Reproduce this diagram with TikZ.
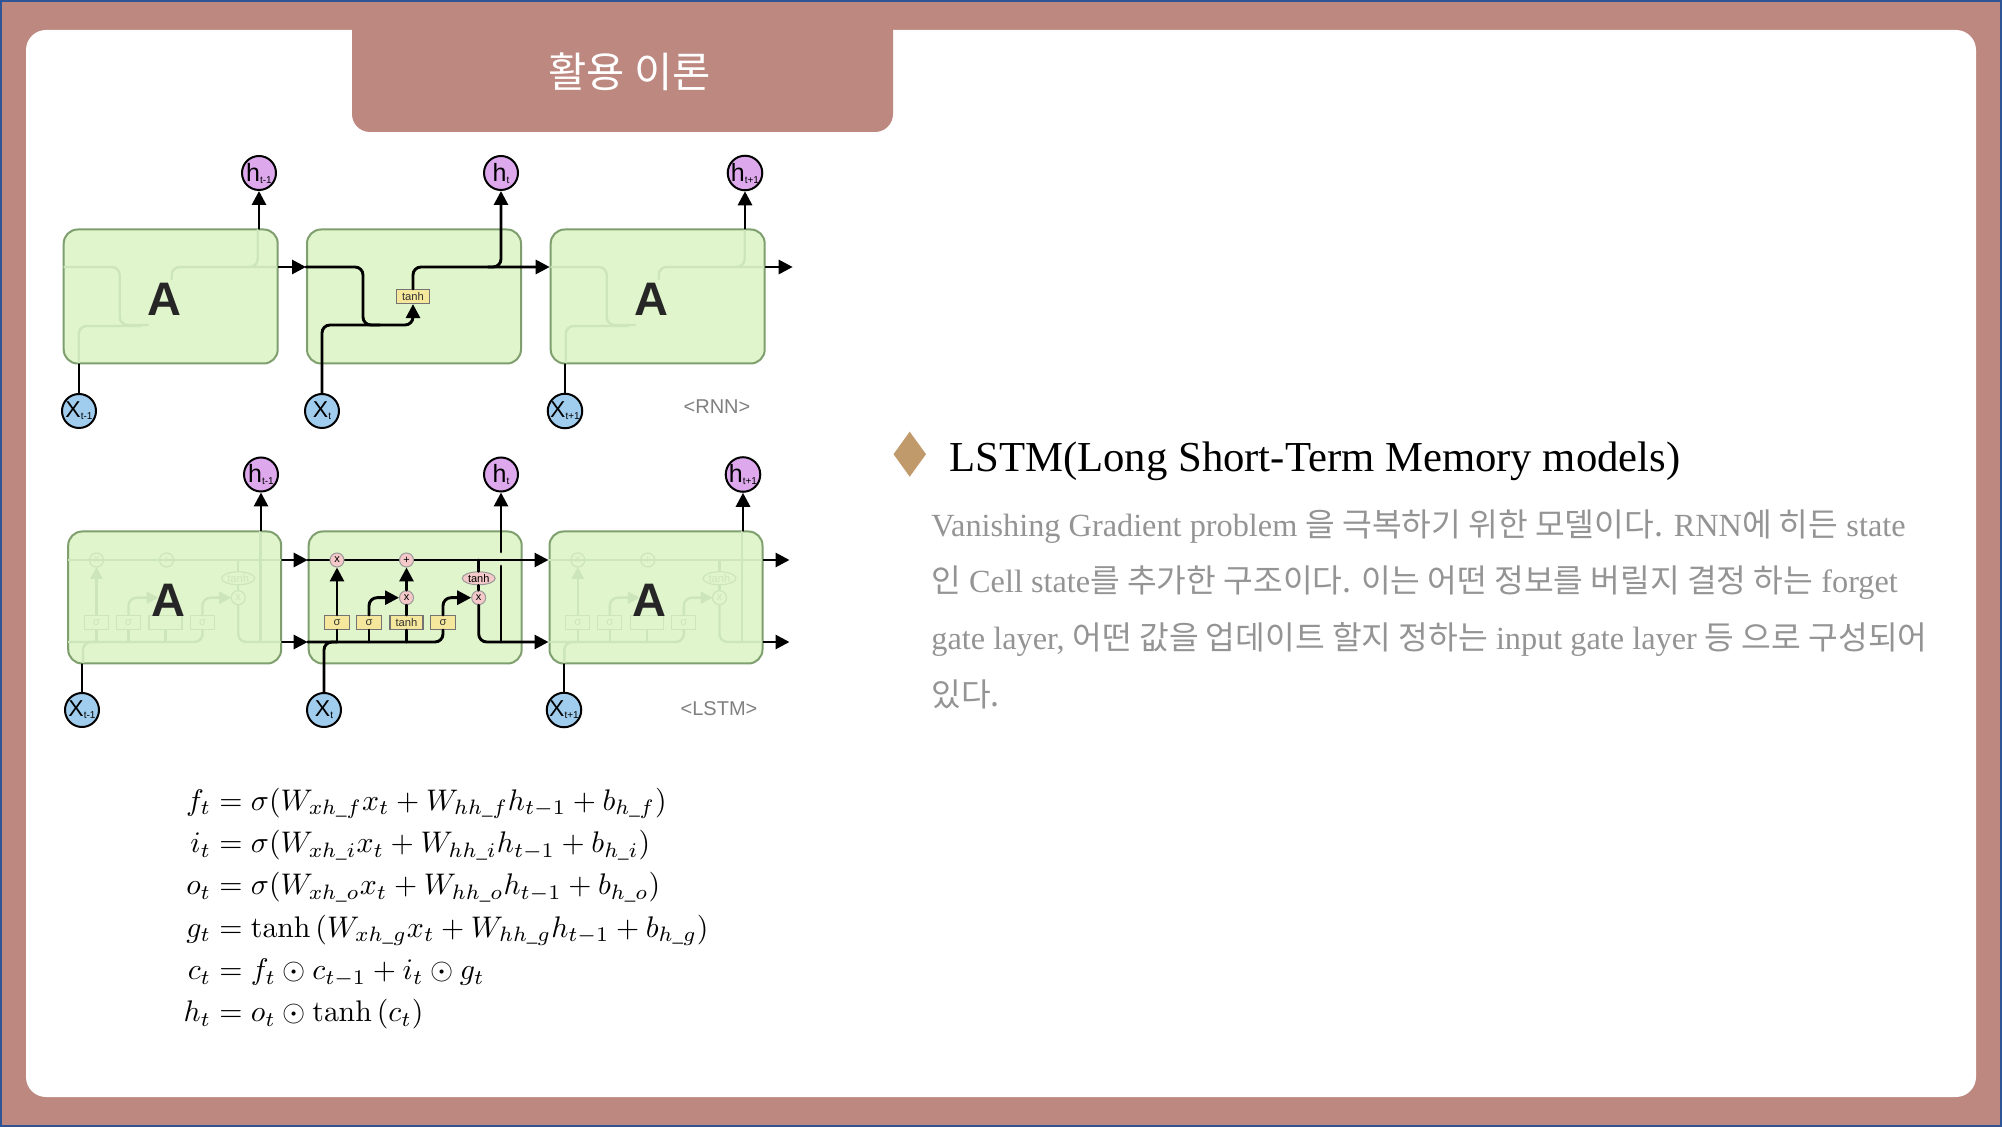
\documentclass[tikz,border=0pt]{standalone}
\usepackage{amsmath}
\usepackage[no-math]{fontspec}
\setmainfont{Liberation Serif}
\setsansfont{Liberation Sans}
\newfontfamily\kofont{Noto Sans CJK KR}
\usetikzlibrary{arrows.meta,shapes.geometric}
\setlength{\jot}{2.2pt}

\definecolor{rose}{HTML}{BD8880}
\definecolor{frameblue}{HTML}{2F5597}
\definecolor{tan}{HTML}{C19A6B}
\definecolor{cellfill}{HTML}{E0F5CC}
\definecolor{celledge}{HTML}{7F9F6E}
\definecolor{ghost}{HTML}{CDE5BA}
\definecolor{layerfill}{HTML}{F5E79C}
\definecolor{opfill}{HTML}{F5C9C9}
\definecolor{hfill}{HTML}{DDA8EC}
\definecolor{xfill}{HTML}{A0CDEE}

\newcommand{\ko}[1]{{\kofont #1}}
\newcommand{\lab}[2]{#1{\fontsize{5}{5}\selectfont\raisebox{-1pt}{#2}}}

\tikzset{
  cell/.style={draw=celledge,line width=1pt,fill=cellfill,rounded corners=7pt,minimum height=67pt,minimum width=107pt,inner sep=0pt},
  lcell/.style={cell,minimum height=66pt,minimum width=106.5pt},
  bigA/.style={font=\sffamily\bfseries\fontsize{23.5}{24}\selectfont,text=black!85,inner sep=0pt},
  hcirc/.style={circle,draw=black,line width=1pt,fill=hfill,minimum size=17pt,inner sep=0pt,font=\sffamily\fontsize{12.5}{13}\selectfont},
  xcirc/.style={circle,draw=black,line width=1pt,fill=xfill,minimum size=17pt,inner sep=0pt,font=\sffamily\fontsize{11.5}{12}\selectfont},
  layerbox/.style={draw=black!55,line width=0.6pt,fill=layerfill,minimum height=7pt,inner sep=0pt,font=\sffamily\fontsize{5.6}{6}\selectfont,text=black!80},
  opcirc/.style={circle,draw=black!40,line width=0.5pt,fill=opfill,minimum size=7pt,inner sep=0pt,font=\sffamily\fontsize{5.5}{6}\selectfont},
  wire/.style={line width=1.45pt,line cap=round},
  flow/.style={wire,-{Triangle[length=7pt,width=7pt]}},
  bendy/.style={rounded corners=4pt},
  ghostwire/.style={line width=1.2pt,draw=ghost},
  ghostflow/.style={ghostwire,-{Triangle[length=6pt,width=6pt]}},
  ghostlayer/.style={draw=ghost,line width=0.6pt,minimum height=7pt,inner sep=0pt,font=\sffamily\fontsize{5.6}{6}\selectfont,text=ghost},
  ghostop/.style={circle,draw=ghost,line width=0.6pt,minimum size=7pt,inner sep=0pt,font=\sffamily\fontsize{5.5}{6}\selectfont,text=ghost},
  capt/.style={font=\sffamily\fontsize{10}{12}\selectfont,text=black!50,inner sep=0pt},
  bodyline/.style={anchor=base west,inner sep=0pt,text=black!42,font=\fontsize{16.15}{20}\selectfont},
}

% faint lines inside the plain A cells
\newcommand{\rnnghost}{
  \draw [ghostwire,bendy] (307,267) -- (363,267) -- (363,325) -- (392,325);
  \draw [ghostwire,bendy] (322,363) -- (322,326) -- (385,326);
  \draw [ghostwire,bendy] (415,280) -- (415,267) -- (521,267);
  \draw [ghostwire,bendy] (490,267) -- (501,267) -- (501,229.5);
}
\newcommand{\lstmghost}{
  \draw [ghostwire] (308.5,560) -- (522,560);
  \draw [ghostwire,bendy] (308.5,642) -- (443,642) -- (443,629);
  \draw [ghostwire,bendy] (323.5,663) -- (323.5,642) -- (337,642);
  \draw [ghostwire] (369,642) -- (369,629);
  \draw [ghostwire] (406,642) -- (406,629);
  \draw [ghostwire] (337,642) -- (337,629);
  \draw [ghostflow] (337,615) -- (337,567);
  \draw [ghostflow,bendy] (369,615) -- (369,597.7) -- (399,597.7);
  \draw [ghostflow,bendy] (443,615) -- (443,597.7) -- (471.7,597.7);
  \draw [ghostwire,bendy] (478.7,605) -- (478.7,642) -- (522,642);
  \draw [ghostwire] (478.7,560) -- (478.7,590);
  \draw [ghostwire] (501,531) -- (501,642);
  \node [ghostop] (gm1) at (337,560) {x};
  \node [ghostop] (gp1) at (407,560) {+};
  \node [ghostop] (gm3) at (478.7,597.7) {x};
  \node [ghostlayer,minimum width=12pt] (gs1) at (337,622.5) {σ};
  \node [ghostlayer,minimum width=12pt] (gs2) at (369,622.5) {σ};
  \node [ghostlayer,minimum width=16.5pt] (gt1) at (406,622.5) {};
  \node [ghostlayer,minimum width=12pt] (gs3) at (443,622.5) {σ};
  \node [ghostlayer,ellipse,fill=cellfill,minimum width=16.5pt,minimum height=6.5pt] (gg1) at (478.7,578.3) {tanh};
}

\begin{document}
\begin{tikzpicture}[x=0.5pt,y=-0.5pt]
\useasboundingbox (0,0) rectangle (2002,1127);

%% The slide
\fill [rose] (0,0) rectangle (2002,1127);
\draw [frameblue,line width=1pt] (1,1) rectangle (2001,1126);
\fill [white,rounded corners=10pt] (26,30) rectangle (1976,1097);
\fill [rose,rounded corners=9pt] (352,10) rectangle (893,132);
\node [text=white,font=\kofont\fontsize{20.8}{24}\selectfont,inner sep=0pt] (title) at (629.5,72) {활용 이론};

%% The RNN row
\coordinate (rnnTop) at (0,267);
\coordinate (rnnLow) at (0,325);
\node [cell] (rnnA) at (170.7,296.5) {};
\node [cell] (rnnB) at (414,296.5) {};
\node [cell] (rnnC) at (657.7,296.5) {};

\begin{scope}[shift={(-243.3,0)}] \rnnghost \end{scope}
\begin{scope}[shift={(243.7,0)}] \rnnghost \end{scope}

\node [bigA] (rnnAa) at (164,299) {A};
\node [bigA] (rnnCa) at (651,299) {A};

\node [hcirc] (rh1) at (259,173) {\lab{h}{t-1}};
\node [hcirc] (rh2) at (501,173) {\lab{h}{t}};
\node [hcirc] (rh3) at (745,173) {\lab{h}{t+1}};
\node [xcirc] (rx1) at (79,411) {\lab{X}{t-1}};
\node [xcirc] (rx2) at (322,411) {\lab{X}{t}};
\node [xcirc] (rx3) at (565,411) {\lab{X}{t+1}};
\node [layerbox,minimum width=16.5pt] (rtanh) at (413,296.5) {tanh};

% outputs and inputs of the cells
\draw [flow] (rh1 |- rnnA.north) -- (rh1);
\draw [flow] (rh3 |- rnnC.north) -- (rh3);
\draw [wire] (rx1) -- (rx1 |- rnnA.south);
\draw [wire] (rx3) -- (rx3 |- rnnC.south);

% links between the cells
\draw [flow] (rnnA.east |- rnnTop) -- (rnnB.west |- rnnTop);
\draw [flow] (rnnC.east |- rnnTop) -- ++(27,0);

% the middle cell
\draw [wire,bendy] (rnnB.west |- rnnTop) -- (363,267) -- (363,325) -- (380,325);
\draw [flow,bendy] (rx2) |- (rnnLow -| rtanh) -- (rtanh);
\draw [flow,bendy] (rtanh) |- (rnnC.west |- rnnTop);
\draw [flow,bendy] (488,267) -| (rh2);

\node [capt] (rnnCap) at (717,407) {<RNN>};

%% The LSTM row
\coordinate (lstmTop) at (0,560);
\coordinate (lstmLow) at (0,642);
\node [lcell] (lstmA) at (174.7,597.5) {};
\node [lcell] (lstmB) at (415.2,597.5) {};
\node [lcell] (lstmC) at (656,597.5) {};

\begin{scope}[shift={(-240.5,0)}] \lstmghost \end{scope}
\begin{scope}[shift={(240.8,0)}] \lstmghost \end{scope}

\node [bigA] (lstmAa) at (168,600) {A};
\node [bigA] (lstmCa) at (649.5,600) {A};

\node [hcirc] (lh1) at (261,474.5) {\lab{h}{t-1}};
\node [hcirc] (lh2) at (501,474.5) {\lab{h}{t}};
\node [hcirc] (lh3) at (743,474.5) {\lab{h}{t+1}};
\node [xcirc] (lx1) at (82,710) {\lab{X}{t-1}};
\node [xcirc] (lx2) at (324,710) {\lab{X}{t}};
\node [xcirc] (lx3) at (564,710) {\lab{X}{t+1}};

% outputs and inputs of the cells
\draw [flow] (lh1 |- lstmA.north) -- (lh1);
\draw [flow] (lh3 |- lstmC.north) -- (lh3);
\draw [wire] (lx1) -- (lx1 |- lstmA.south);
\draw [wire] (lx3) -- (lx3 |- lstmC.south);

% links between the cells
\draw [flow] (lstmA.east |- lstmTop) -- (lstmB.west |- lstmTop);
\draw [flow] (lstmA.east |- lstmLow) -- (lstmB.west |- lstmLow);
\draw [flow] (lstmC.east |- lstmTop) -- ++(26,0);
\draw [flow] (lstmC.east |- lstmLow) -- ++(26,0);

% the cell state line runs under the gates
\draw [flow] (lstmB.west |- lstmTop) -- (lstmC.west |- lstmTop);

\node [opcirc] (lm1) at (337,560) {x};
\node [opcirc] (lp1) at (406.5,560) {+};
\node [opcirc] (lm2) at (406.5,597.7) {x};
\node [opcirc] (lm3) at (478.7,597.7) {x};
\node [layerbox,minimum width=12.3pt] (ls1) at (337,622.5) {σ};
\node [layerbox,minimum width=12.3pt] (ls2) at (369,622.5) {σ};
\node [layerbox,minimum width=16.5pt] (lt1) at (406.5,622.5) {tanh};
\node [layerbox,minimum width=12.3pt] (ls3) at (443,622.5) {σ};
\node [opcirc,ellipse,minimum width=16.5pt,minimum height=6.5pt] (lg1) at (478.7,578.3) {tanh};

% the hidden line and the gates
\draw [wire,bendy] (lstmB.west |- lstmLow) -| (ls3);
\draw [wire,bendy] (lx2) |- (ls1 |- lstmLow);
\draw [wire] (ls1 |- lstmLow) -- (ls1);
\draw [wire] (ls2 |- lstmLow) -- (ls2);
\draw [wire] (lt1 |- lstmLow) -- (lt1);
\draw [flow] (ls1) -- (lm1);
\draw [flow,bendy] (ls2) |- (lm2);
\draw [wire] (lt1) -- (lm2);
\draw [flow] (lm2) -- (lp1);
\draw [flow,bendy] (ls3) |- (lm3);
\draw [wire] (lm3) -- (lg1);
\draw [wire] (lg1) -- (lg1 |- lstmTop);
\draw [flow,bendy] (lm3) |- (lstmC.west |- lstmLow);

% the output passes the top line with a gap
\coordinate (gapLow) at (501,566);
\coordinate (gapHigh) at (501,552);
\draw [wire] (lh2 |- lstmLow) -- (gapLow);
\draw [flow] (gapHigh) -- (lh2);

\node [capt] (lstmCap) at (719,709) {<LSTM>};

%% The equations
\node [scale=1.49,inner sep=0pt] (eqs) at (446,909) {$\begin{aligned}
f_t &= \sigma(W_{xh\_f}x_t + W_{hh\_f}h_{t-1} + b_{h\_f})\\
i_t &= \sigma(W_{xh\_i}x_t + W_{hh\_i}h_{t-1} + b_{h\_i})\\
o_t &= \sigma(W_{xh\_o}x_t + W_{hh\_o}h_{t-1} + b_{h\_o})\\
g_t &= \tanh\left(W_{xh\_g}x_t + W_{hh\_g}h_{t-1} + b_{h\_g}\right)\\
c_t &= f_t \odot c_{t-1} + i_t \odot g_t\\
h_t &= o_t \odot \tanh\left(c_t\right)
\end{aligned}$};

%% The text on the right
\fill [tan] (909.7,431.7) -- (926,454.2) -- (909.7,476.7) -- (893.5,454.2) -- cycle;
\node [anchor=base west,inner sep=0pt,font=\fontsize{21.35}{24}\selectfont] (head) at (949,471.5) {LSTM(Long Short-Term Memory models)};

\node [bodyline] (lineA) at (931,537) {Vanishing Gradient problem \ko{을 극복하기 위한 모델이다.} RNN\ko{에 히든} state};
\node [bodyline] (lineB) at (931,593) {\ko{인} Cell state\ko{를 추가한 구조이다. 이는 어떤 정보를 버릴지 결정 하는} forget};
\node [bodyline] (lineC) at (931,650) {gate layer, \ko{어떤 값을 업데이트 할지 정하는} input gate layer \ko{등 으로 구성되어}};
\node [bodyline] (lineD) at (931,706.5) {\ko{있다.}};

\end{tikzpicture}
\end{document}
